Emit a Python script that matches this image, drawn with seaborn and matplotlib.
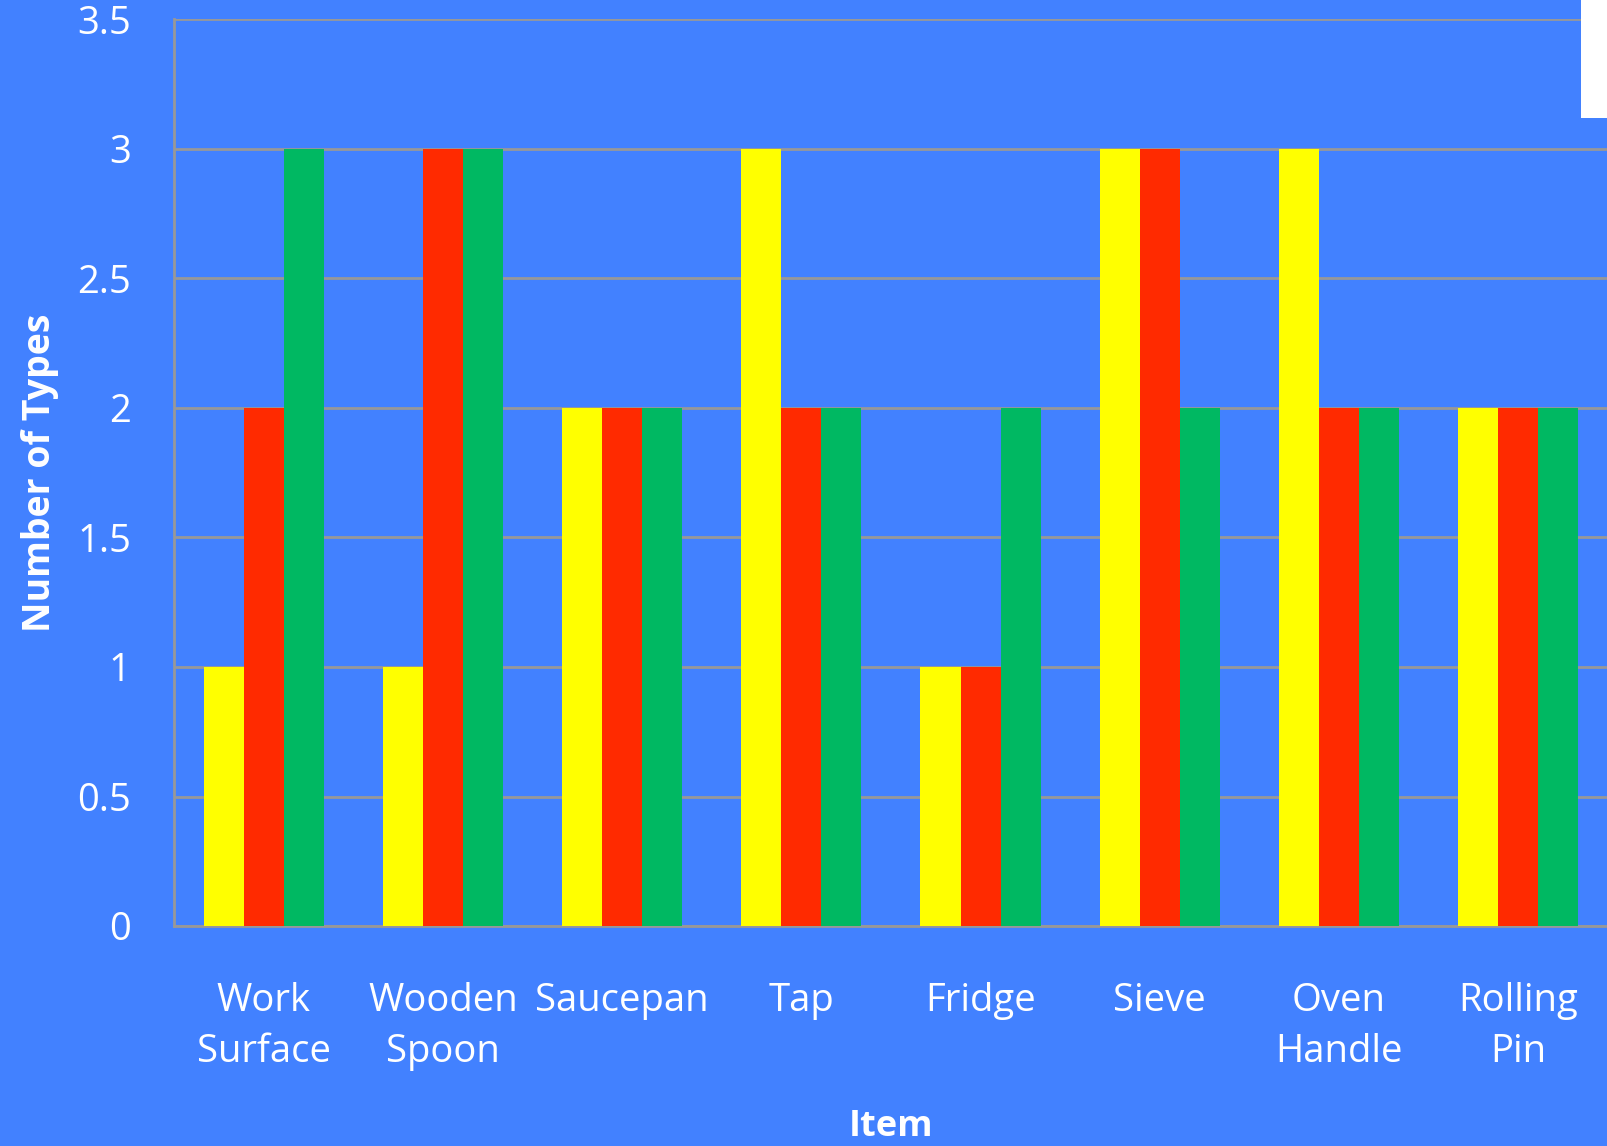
import matplotlib
matplotlib.use("Agg")
import matplotlib.pyplot as plt
import seaborn as sns
import pandas as pd
from matplotlib.patches import Rectangle

# Items and counts for each of the three series
items = ["Work\nSurface", "Wooden\nSpoon", "Saucepan", "Tap", "Fridge",
         "Sieve", "Oven\nHandle", "Rolling\nPin"]
series_names = ["Yellow", "Red", "Green"]
yellow_vals = [1, 1, 2, 3, 1, 3, 3, 2]
red_vals = [2, 3, 2, 2, 1, 3, 2, 2]
green_vals = [3, 3, 2, 2, 2, 2, 2, 2]
y_ticks = [0, 0.5, 1, 1.5, 2, 2.5, 3, 3.5]
y_tick_labels = ["0", "0.5", "1", "1.5", "2", "2.5", "3", "3.5"]

bg = "#4281FF"
grid_col = "#989898"
palette = ["#FFFF00", "#FF2A00", "#00B862"]

rows = []
for name, vals in zip(series_names, [yellow_vals, red_vals, green_vals]):
    for it, v in zip(items, vals):
        rows.append({"Item": it, "Series": name, "Count": v})
df = pd.DataFrame(rows)

sns.set_style("white")
plt.rcParams["font.family"] = ["Open Sans", "DejaVu Sans"]

fig = plt.figure(figsize=(16.07, 11.46), dpi=100, facecolor=bg)
ax = fig.add_axes([174 / 1607, 1 - 926 / 1146, (1607 - 174) / 1607 + 0.0005, 906.5 / 1146])
ax.set_facecolor(bg)

sns.barplot(data=df, x="Item", y="Count", hue="Series", palette=palette,
            width=0.67, saturation=1, ax=ax, legend=False, zorder=3)
for p in ax.patches:
    p.set_edgecolor("none")

ax.set_xlim(-0.5, 7.5)
ax.set_ylim(0, 3.5)
ax.set_yticks(y_ticks)
ax.set_yticklabels(y_tick_labels)
ax.yaxis.grid(True, color=grid_col, linewidth=2, zorder=0)
ax.set_axisbelow(True)

for s in ["top", "right"]:
    ax.spines[s].set_visible(False)
for s in ["left", "bottom"]:
    ax.spines[s].set_color(grid_col)
    ax.spines[s].set_linewidth(2)

ax.tick_params(axis="y", which="major", length=14, width=2, color=grid_col,
               labelsize=27.5, labelcolor="white", pad=17)
ax.tick_params(axis="x", length=0, labelsize=27.5, labelcolor="white", pad=40)
for lbl in ax.get_xticklabels():
    lbl.set_linespacing(1.45)
    lbl.set_ha("center")

ax.set_xlabel("Item", fontsize=26, fontweight="bold", color="white", labelpad=28)
ax.set_ylabel("Number of Types", fontsize=27, fontweight="bold", color="white", labelpad=13)

# legend box partly outside the figure at the top right
fig.patches.append(Rectangle((1581 / 1607, 1 - 118 / 1146), 0.05, 118 / 1146,
                             transform=fig.transFigure, facecolor="white",
                             edgecolor="none", zorder=10))

fig.savefig("out.png", dpi=100, facecolor=bg)
